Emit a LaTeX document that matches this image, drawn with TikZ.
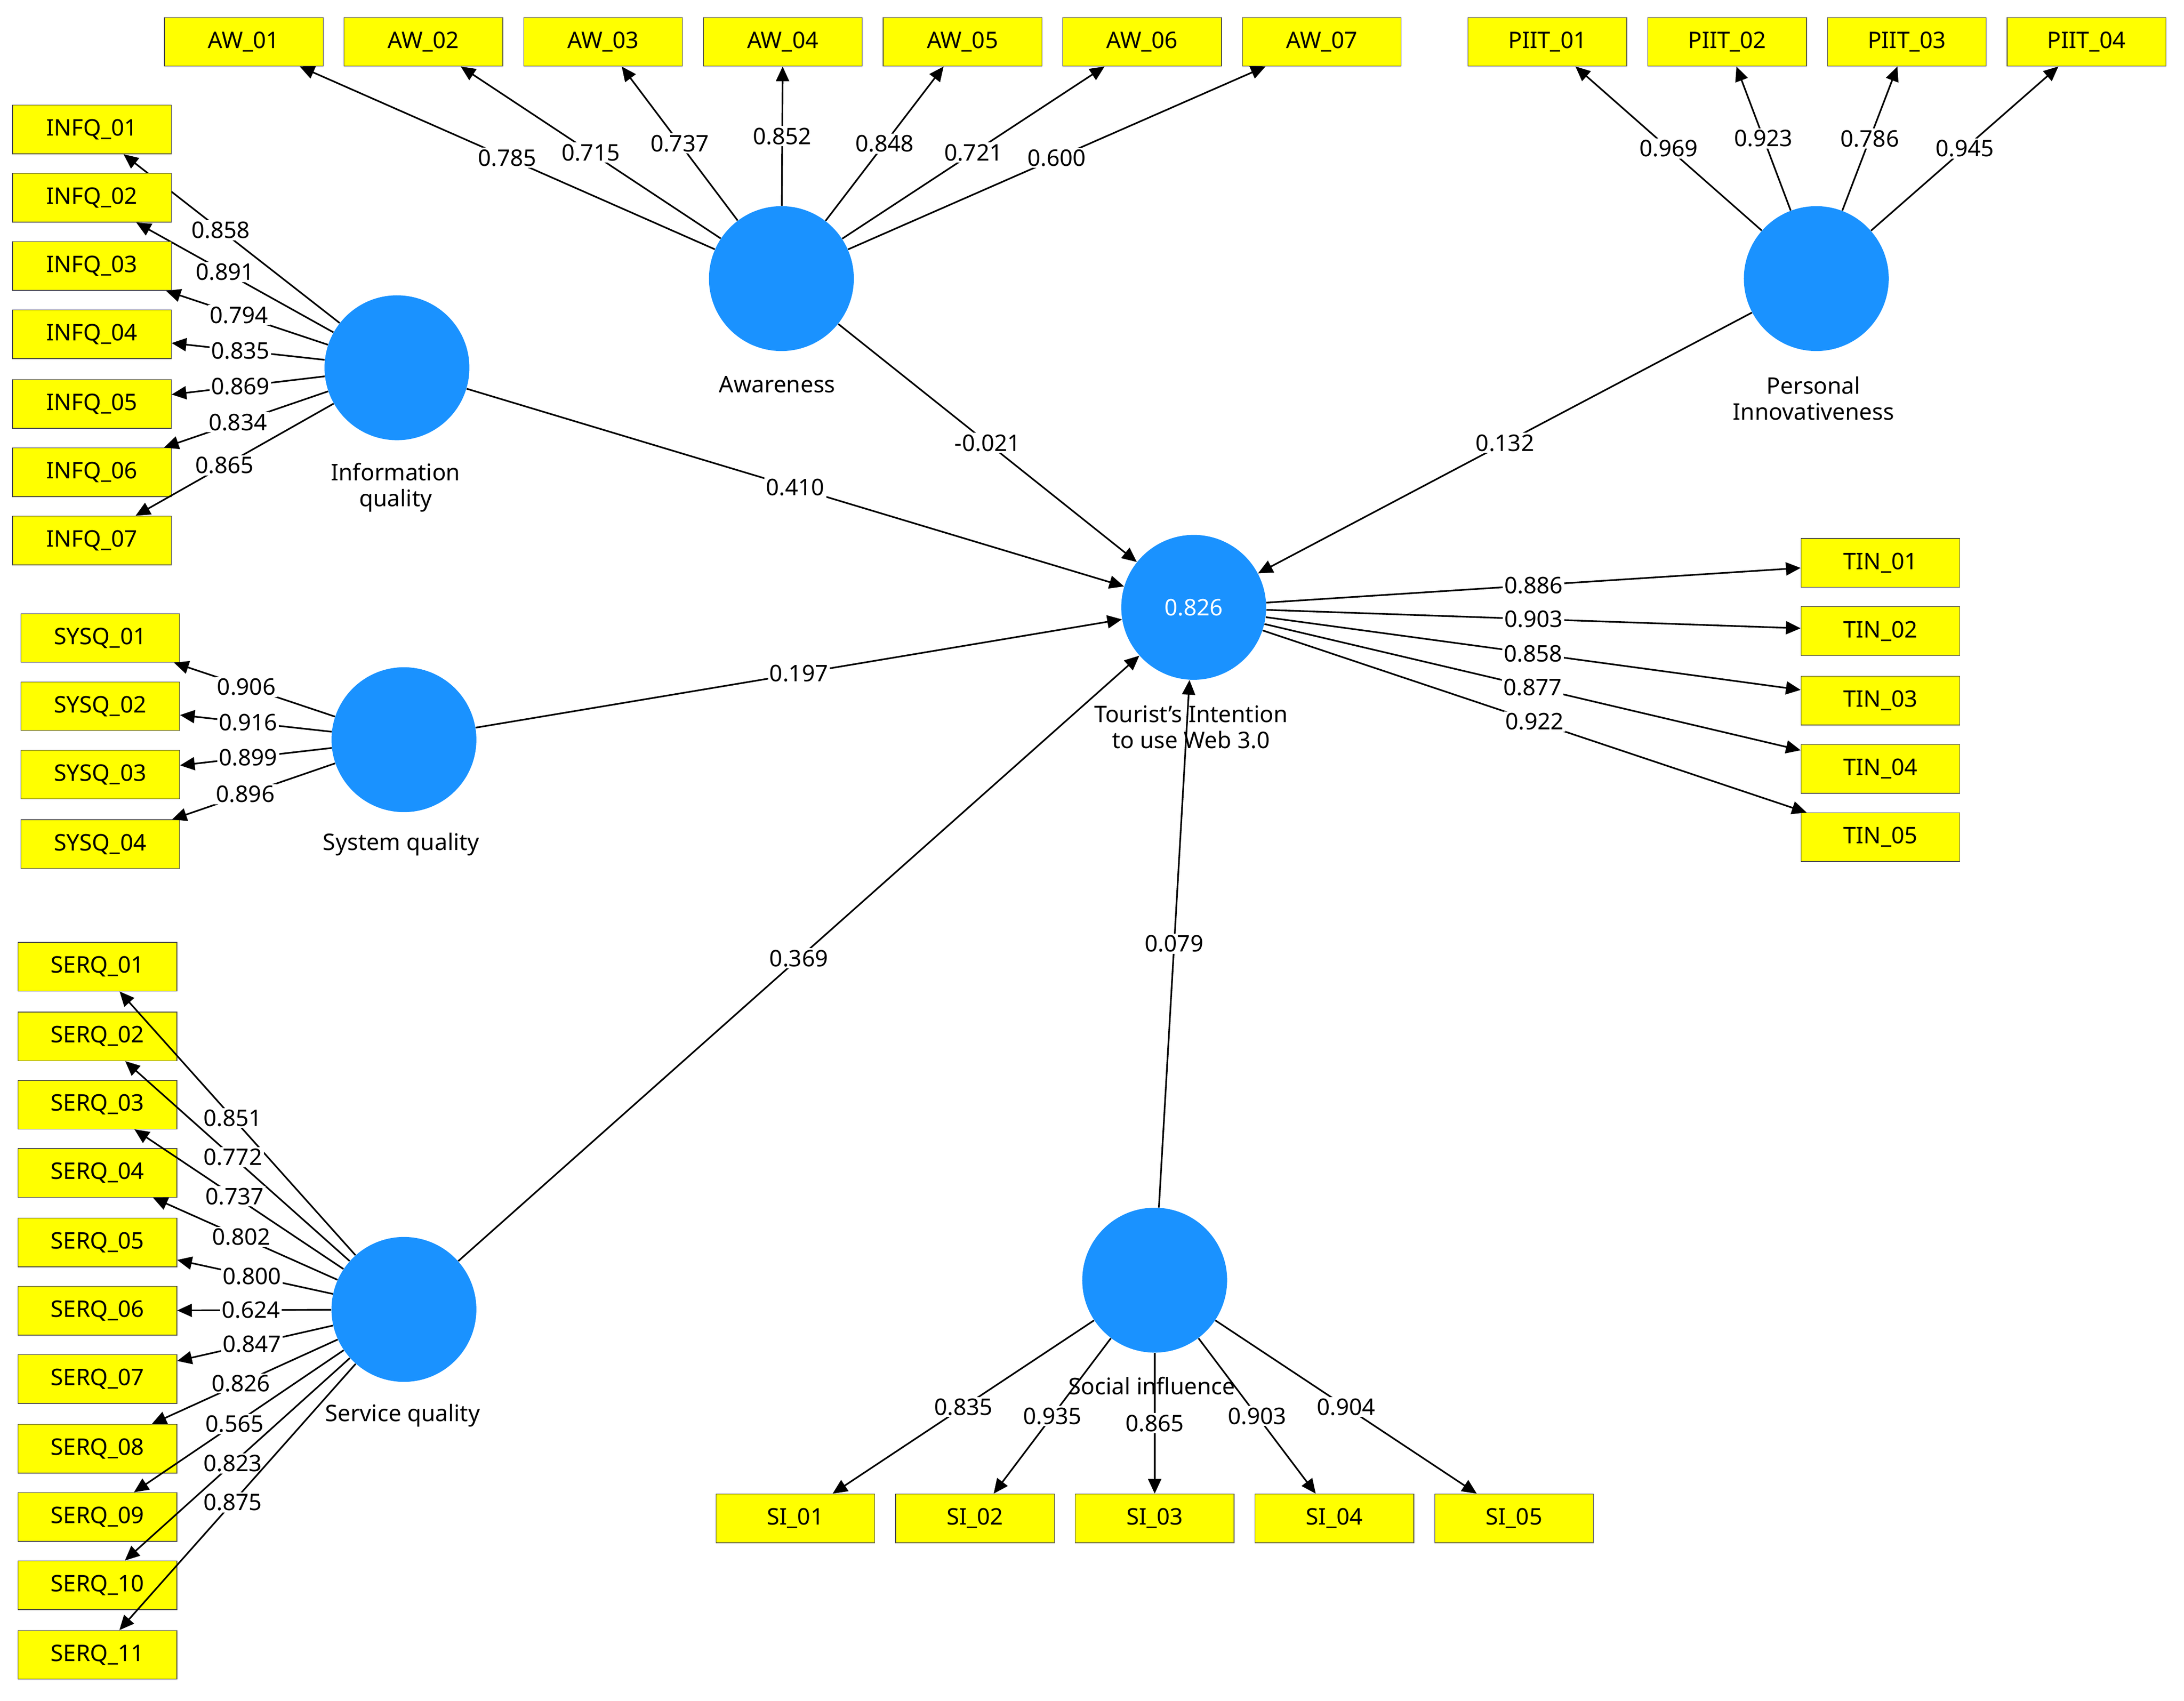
\documentclass[tikz,border=0pt]{standalone}
\usepackage{fontspec}
\setmainfont{Noto Sans}
\usetikzlibrary{arrows.meta}
\definecolor{lv}{HTML}{1A92FF}
\definecolor{ind}{HTML}{FFFF00}
\begin{document}
\begin{tikzpicture}[x=0.03cm,y=-0.03cm,
  font=\fontsize{14}{16}\selectfont,
  box/.style={draw=black!70,fill=ind,minimum width=3.42cm,minimum height=1.05cm,inner sep=0pt},
  lat/.style={circle,fill=lv,minimum size=3.12cm,inner sep=0pt},
  ar/.style={draw,line width=1pt,-{Triangle[length=9pt,width=8pt]}},
  lab/.style={fill=white,inner sep=1pt,pos=0.5}]
\useasboundingbox (0,0) rectangle (1568,1221);
% latent variables
\node[lat] (AW) at (561,200) {};
\node[lat] (PI) at (1304,200) {};
\node[lat] (IQ) at (285,264) {};
\node[lat] (SQ) at (290,531) {};
\node[lat] (SV) at (290,940) {};
\node[lat] (TI) at (857,436) {\textcolor{white}{0.826}};
\node[lat] (SI) at (829,919) {};
\node at (558,276) {Awareness};
\node[align=center] at (1302,286) {Personal\\Innovativeness};
\node[align=center] at (284,350) {Information\\quality};
\node at (288,606) {System quality};
\node at (289,1016) {Service quality};
\node[align=center] at (855,522) {Tourist's Intention\\to use Web 3.0};
\node at (827,995) {Social influence};
% indicators
\foreach \i/\x/\l in {1/175/0.785,2/304/0.715,3/433/0.737,4/562/0.852,5/691/0.848,6/820/0.721,7/949/0.600}{
  \node[box] (AW\i) at (\x,30) {AW\_0\i};
  \draw[ar] (AW) -- (AW\i) node[lab]{\l};}
\foreach \i/\x/\l in {1/1111/0.969,2/1240/0.923,3/1369/0.786,4/1498/0.945}{
  \node[box] (PIIT\i) at (\x,30) {PIIT\_0\i};
  \draw[ar] (PI) -- (PIIT\i) node[lab]{\l};}
\foreach \i/\y/\l in {1/93/0.858,2/142/0.891,3/191/0.794,4/240/0.835,5/290/0.869,6/339/0.834,7/388/0.865}{
  \node[box] (INFQ\i) at (66,\y) {INFQ\_0\i};
  \draw[ar] (IQ) -- (INFQ\i) node[lab,pos=0.55]{\l};}
\foreach \i/\y/\l in {1/458/0.906,2/507/0.916,3/556/0.899,4/606/0.896}{
  \node[box] (SYSQ\i) at (72,\y) {SYSQ\_0\i};
  \draw[ar] (SQ) -- (SYSQ\i) node[lab,pos=0.55]{\l};}
\foreach \i/\n/\y/\l in {1/01/694/0.851,2/02/744/0.772,3/03/793/0.737,4/04/842/0.802,5/05/892/0.800,6/06/941/0.624,7/07/990/0.847,8/08/1040/0.826,9/09/1089/0.565,10/10/1138/0.823,11/11/1188/0.875}{
  \node[box] (SERQ\i) at (70,\y) {SERQ\_\n};}
\foreach \i/\l in {1/0.851,2/0.772,3/0.737,4/0.802,5/0.800,6/0.624,7/0.847,8/0.826,9/0.565,10/0.823,11/0.875}{
  \draw[ar] (SV) -- (SERQ\i) node[lab,pos=0.52]{\l};}
\foreach \i/\y/\l in {1/404/0.886,2/453/0.903,3/503/0.858,4/552/0.877,5/601/0.922}{
  \node[box] (TIN\i) at (1350,\y) {TIN\_0\i};
  \draw[ar] (TI) -- (TIN\i) node[lab]{\l};}
\foreach \i/\x/\l in {1/571/0.835,2/700/0.935,3/829/0.865,4/958/0.903,5/1087/0.904}{
  \node[box] (SI\i) at (\x,1090) {SI\_0\i};
  \draw[ar] (SI) -- (SI\i) node[lab]{\l};}
% structural paths
\draw[ar] (IQ) -- (TI) node[lab]{0.410};
\draw[ar] (SQ) -- (TI) node[lab]{0.197};
\draw[ar] (SV) -- (TI) node[lab]{0.369};
\draw[ar] (AW) -- (TI) node[lab]{-0.021};
\draw[ar] (PI) -- (TI) node[lab]{0.132};
\draw[ar] (SI) -- (TI) node[lab]{0.079};
\end{tikzpicture}
\end{document}
